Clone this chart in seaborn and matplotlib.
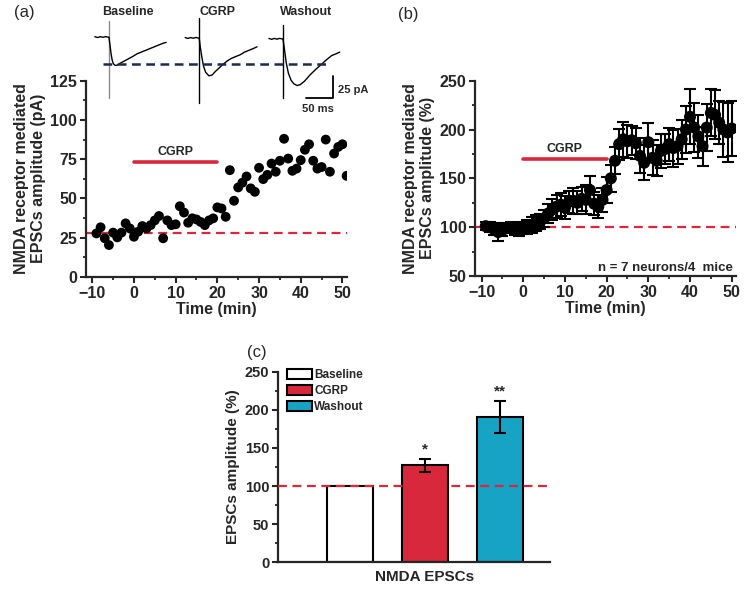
import matplotlib
matplotlib.use('Agg')
import matplotlib.pyplot as plt
import seaborn as sns
import pandas as pd

# (a) one neuron, amplitude every minute
time_a = list(range(-9, 52))
amp_a = [27.7, 31.6, 24.6, 20.3, 28.2, 25.2, 28.2, 34.1, 30.9, 25.6,
         28.8, 32.4, 30.9, 33.0, 36.0, 38.8, 24.6, 36.0, 33.0, 33.5,
         45.0, 41.0, 34.5, 37.3, 36.6, 35.0, 33.0, 36.0, 37.3, 44.3,
         43.6, 38.3, 68.0, 48.5, 57.0, 60.0, 64.0, 56.4, 54.2, 69.5,
         62.3, 65.0, 72.2, 67.0, 74.0, 88.0, 75.4, 67.6, 69.0, 74.4,
         81.0, 84.5, 74.0, 69.0, 70.0, 87.5, 67.0, 78.6, 82.8, 84.5, 64.4]
base_a = 28
cgrp_a = 73

# (b) normalised mean +/- SEM
time_b = list(range(-9, 51))
mean_b = [101, 100, 98, 95, 97, 99, 100, 98, 97,
          99, 100, 102, 104, 106, 109, 114, 118, 121, 123,
          120, 126, 127, 125, 129, 128, 138, 124, 121, 128,
          138, 150, 168, 185, 190, 188, 189, 186, 173, 166,
          187, 171, 168, 178, 180, 185, 181, 183, 190, 200,
          213, 202, 193, 183, 202, 217, 215, 207, 200, 197, 201]
sem_b = [4, 5, 6, 9, 6, 5, 5, 6, 6,
         6, 7, 8, 8, 8, 9, 10, 11, 12, 12,
         12, 11, 13, 12, 12, 15, 14, 12, 12, 12,
         13, 14, 14, 16, 18, 17, 15, 16, 18, 18,
         20, 18, 16, 17, 15, 17, 19, 18, 20, 24,
         28, 25, 22, 20, 24, 24, 25, 22, 28, 30, 28]
cgrp_b = 170

# (c) summary bars
conds = ['Baseline', 'CGRP', 'Washout']
bar_mean = [100, 127, 191]
bar_sem = [0, 9, 21]
stars = ['', '*', '**']

# example traces: ms from stimulus, pA
t_base = [-26, -21, -16, -11, -6, -2, 0, 2, 4, 6, 8, 11, 15, 20, 26, 32, 38, 44, 52, 60, 68, 76, 84, 92, 100, 106]
i_base = [1.5, 0.5, 1.5, 0.8, 1.6, 1.0, 1.0, -8, -18, -25, -29, -31, -31, -29, -27, -25, -23, -21, -18, -16, -14, -12, -10, -8, -6, -5]
t_cgrp = [-26, -21, -16, -11, -6, -2, 0, 2, 5, 8, 12, 18, 24, 30, 37, 44, 52, 60, 68, 76, 84, 92, 100, 107]
i_cgrp = [0.5, -0.5, 0.5, -0.3, 0.6, 0.0, 0.0, -10, -22, -32, -39, -43, -42, -38, -34, -30, -26, -23, -21, -19, -16, -14, -12, -10]
t_wash = [-26, -21, -16, -11, -6, -2, 0, 3, 6, 10, 15, 20, 26, 32, 40, 50, 60, 72, 80, 90, 98, 105]
i_wash = [-0.5, -1.5, -0.5, -1.3, -0.4, -1.0, -1.0, -14, -28, -40, -48, -52, -54, -53, -49, -42, -36, -29.5, -25, -20, -18, -16]
art_top = [19, 23, 15]
art_bot = [-68, -74, -68]

red = '#d8283c'
cyan = '#17a3c4'
sns.set_style('ticks')
plt.rcParams['font.family'] = ['Liberation Sans', 'DejaVu Sans']

fig = plt.figure(figsize=(7.44, 5.90), dpi=100)


def px_axes(l, t, r, b):
    return fig.add_axes([l / 744, 1 - b / 590, (r - l) / 744, (b - t) / 590])


def style(ax, size):
    for s in ['top', 'right']:
        ax.spines[s].set_visible(False)
    for s in ['left', 'bottom']:
        ax.spines[s].set_linewidth(1.6)
    ax.tick_params(which='major', direction='out', length=4.5, width=1.5, labelsize=size, pad=2)
    ax.tick_params(which='minor', direction='out', length=2.5, width=1.3)
    for lab in ax.get_xticklabels() + ax.get_yticklabels():
        lab.set_fontweight('bold')


# ---- (a)
axA = px_axes(86, 80.7, 346.6, 276.9)
axA.axhline(base_a, color=red, lw=1.6, ls=(0, (4, 2.5)), zorder=1)
sns.scatterplot(x=time_a, y=amp_a, ax=axA, color='black', s=50, edgecolor='none', zorder=3)
axA.plot([0, 20], [cgrp_a, cgrp_a], color=red, lw=2.6)
axA.text(10, cgrp_a + 2.5, 'CGRP', ha='center', va='bottom', fontsize=9, fontweight='bold')
axA.set_xlim(-11.5, 51)
axA.set_ylim(0, 125)
axA.set_xticks(range(-10, 51, 10))
axA.set_xticks(range(-5, 51, 10), minor=True)
axA.set_yticks(range(0, 126, 25))
axA.set_yticks([12.5, 37.5, 62.5, 87.5, 112.5], minor=True)
style(axA, 11.5)
axA.set_xlabel('Time (min)', fontsize=11.5, fontweight='bold', labelpad=1)
axA.set_ylabel('NMDA receptor mediated\nEPSCs amplitude (pA)', fontsize=11.5, fontweight='bold', labelpad=3)

# ---- traces above (a)
axT = px_axes(90, 0, 370, 120)
axT.set_xlim(0, 518)
axT.set_ylim(-93.2, 43.2)
axT.axis('off')
stim = [35, 202, 357]
traces = [(t_base, i_base), (t_cgrp, i_cgrp), (t_wash, i_wash)]
art_col = ['#8a8a8a', 'black', 'black']
for k, (tt, ii) in enumerate(traces):
    axT.plot([stim[k], stim[k]], [art_top[k], art_bot[k]], color=art_col[k], lw=1.0)
    axT.plot([stim[k] + t for t in tt], ii, color='black', lw=1.0)
axT.plot([24, 444], [-29.5, -29.5], color='#1c2b4a', lw=1.8, ls=(0, (3.5, 2.2)))
axT.plot([400, 450, 450], [-68, -68, -43], color='black', lw=1.3)
axT.text(459, -59, '25 pA', ha='left', va='center', fontsize=8, fontweight='bold')
axT.text(422, -81, '50 ms', ha='center', va='center', fontsize=8, fontweight='bold')
for name, x in zip(conds, [70, 235, 400]):
    axT.text(x, 29, name, ha='center', va='center', fontsize=9, fontweight='bold')

# ---- (b)
axB = px_axes(475.3, 80.7, 735.9, 276)
axB.axhline(100, color=red, lw=1.6, ls=(0, (4, 2.5)), zorder=1)
axB.errorbar(time_b, mean_b, yerr=sem_b, fmt='none', ecolor='black', elinewidth=1.5,
             capsize=4, capthick=1.5, zorder=2)
sns.scatterplot(x=time_b, y=mean_b, ax=axB, color='black', s=75, edgecolor='none', zorder=3)
axB.plot([0, 20], [cgrp_b, cgrp_b], color=red, lw=2.6)
axB.text(10, cgrp_b + 4, 'CGRP', ha='center', va='bottom', fontsize=9, fontweight='bold')
axB.text(50.3, 55, 'n = 7 neurons/4  mice', ha='right', va='baseline', fontsize=9.5, fontweight='bold')
axB.set_xlim(-11.5, 51)
axB.set_ylim(50, 250)
axB.set_xticks(range(-10, 51, 10))
axB.set_xticks(range(-5, 51, 10), minor=True)
axB.set_yticks(range(50, 251, 50))
axB.set_yticks(range(75, 251, 50), minor=True)
style(axB, 11.5)
axB.set_xlabel('Time (min)', fontsize=11.5, fontweight='bold', labelpad=1)
axB.set_ylabel('NMDA receptor mediated\nEPSCs amplitude (%)', fontsize=11.5, fontweight='bold', labelpad=3)

# ---- (c)
axC = px_axes(278.3, 371.7, 550, 562.3)
df_c = pd.DataFrame({'group': ['NMDA EPSCs'] * 3, 'cond': conds, 'val': bar_mean})
axC.axhline(100, color=red, lw=1.6, ls=(0, (4, 2.5)), zorder=5)
sns.barplot(data=df_c, x='group', y='val', hue='cond', palette=['white', red, cyan], saturation=1,
            edgecolor='black', linewidth=1.5, gap=0.39, errorbar=None, legend=False, ax=axC)
bars = [c[0] for c in axC.containers]
for b, m, e, st in zip(bars, bar_mean, bar_sem, stars):
    xc = b.get_x() + b.get_width() / 2
    if e > 0:
        axC.errorbar(xc, m, yerr=e, fmt='none', ecolor='black', elinewidth=1.5, capsize=4, capthick=1.5, zorder=6)
        axC.text(xc, m + e + 3, st, ha='center', va='bottom', fontsize=11, fontweight='bold')
axC.legend(handles=bars, labels=conds, loc='upper left', bbox_to_anchor=(0.015, 1.04), frameon=False,
           prop={'weight': 'bold', 'size': 8.5}, handlelength=2.1, handleheight=1.0,
           handletextpad=0.2, labelspacing=0.3, borderaxespad=0)
axC.set_xlim(-0.522, 0.445)
axC.set_ylim(0, 250)
axC.set_xticks([])
axC.set_yticks(range(0, 251, 50))
axC.set_yticks(range(25, 251, 50), minor=True)
style(axC, 10.5)
axC.set_xlabel('NMDA EPSCs', fontsize=11, fontweight='bold', labelpad=8)
axC.xaxis.set_label_coords(0.54, -0.04, transform=axC.transAxes)
axC.xaxis.label.set_va('top')
axC.set_ylabel('EPSCs amplitude (%)', fontsize=11, fontweight='bold', labelpad=3)

fig.text(14 / 744, 1 - 12 / 590, '(a)', fontsize=12, ha='left', va='center')
fig.text(398 / 744, 1 - 14 / 590, '(b)', fontsize=12, ha='left', va='center')
fig.text(247 / 744, 1 - 352 / 590, '(c)', fontsize=12, ha='left', va='center')

fig.savefig('out.png', dpi=100)
